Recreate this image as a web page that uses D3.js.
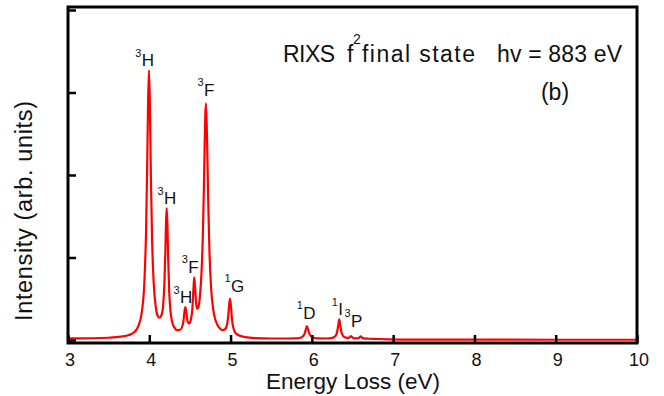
<!DOCTYPE html>
<html>
<head>
<meta charset="utf-8">
<script src="https://cdn.jsdelivr.net/npm/d3@7"></script>
<style>
  body { margin: 0; background: #fff; }
  text { font-family: Arial, "Liberation Sans", sans-serif; fill: #111; }
</style>
</head>
<body>
<svg id="chart" width="664" height="396"></svg>
<script>
/*
** Data
*/
var energy = [
    3.00, 3.30, 3.50, 3.65, 3.75, 3.82, 3.87, 3.91, 3.94, 3.96, 3.975, 3.985
  , 3.996, 4.007, 4.02, 4.035, 4.055, 4.08, 4.10, 4.125, 4.15, 4.17, 4.185, 4.197
  , 4.206, 4.214, 4.222, 4.232, 4.245, 4.26, 4.28, 4.31, 4.34, 4.37, 4.40, 4.42
  , 4.435, 4.443, 4.452, 4.47, 4.49, 4.51, 4.53, 4.543, 4.553, 4.563, 4.575, 4.59
  , 4.605, 4.625, 4.645, 4.66, 4.672, 4.682, 4.697, 4.712, 4.725, 4.74, 4.76, 4.785
  , 4.81, 4.84, 4.87, 4.90, 4.93, 4.955, 4.972, 4.983, 4.993, 5.003, 5.015, 5.03
  , 5.05, 5.08, 5.12, 5.18, 5.30, 5.50, 5.70, 5.80, 5.86, 5.89, 5.91, 5.925
  , 5.94, 5.955, 5.97, 5.99, 6.02, 6.08, 6.18, 6.25, 6.29, 6.31, 6.325, 6.337
  , 6.349, 6.365, 6.39, 6.42, 6.45, 6.47, 6.48, 6.495, 6.52, 6.56, 6.585, 6.60
  , 6.615, 6.64, 6.70, 6.80, 6.95, 7.20, 8.00, 9.00, 10.0
];
var intensity = [
    0.020, 0.021, 0.027, 0.040, 0.060, 0.100, 0.180, 0.350, 0.710, 1.300, 2.160, 2.870
  , 3.270, 2.870, 1.960, 1.190, 0.680, 0.400, 0.300, 0.270, 0.300, 0.420, 0.660, 1.050
  , 1.430, 1.600, 1.430, 1.000, 0.590, 0.360, 0.225, 0.150, 0.120, 0.120, 0.150, 0.226
  , 0.360, 0.400, 0.360, 0.230, 0.200, 0.240, 0.380, 0.610, 0.760, 0.640, 0.460, 0.380
  , 0.400, 0.550, 0.870, 1.310, 1.850, 2.400, 2.870, 2.380, 1.680, 1.080, 0.640, 0.380
  , 0.255, 0.180, 0.140, 0.120, 0.130, 0.180, 0.300, 0.430, 0.500, 0.430, 0.275, 0.165
  , 0.100, 0.068, 0.050, 0.035, 0.023, 0.018, 0.018, 0.020, 0.028, 0.045, 0.075, 0.125
  , 0.170, 0.120, 0.075, 0.045, 0.028, 0.020, 0.018, 0.025, 0.048, 0.095, 0.180, 0.250
  , 0.180, 0.090, 0.043, 0.028, 0.026, 0.038, 0.048, 0.035, 0.020, 0.019, 0.030, 0.045
  , 0.030, 0.020, 0.015, 0.012, 0.008, 0.005, 0.004, 0.003, 0.003
];

// term labels: multiplicity, letter, anchor in data units (E, I)
var termMult   = ["3", "3", "3", "3", "3", "1", "1", "1", "3"];
var termLetter = ["H", "H", "H", "F", "F", "G", "D", "I", "P"];
var termE      = [3.906, 4.181, 4.378, 4.480, 4.673, 5.005, 5.894, 6.325, 6.481];
var termI      = [3.32, 1.648, 0.445, 0.816, 2.958, 0.582, 0.255, 0.303, 0.161];

var xTicks = [3, 4, 5, 6, 7, 8, 9, 10];
var yTicks = [0, 1, 2, 3, 4];

/*
** Chart
*/
function RixsChart() {
  var svg = d3.select("#chart")
    , x = d3.scaleLinear().domain([3, 10]).range([68, 637])
    , y = d3.scaleLinear().domain([0, 4]).range([340, 10])
  ;

  function header(px, py, size, str, len) {
      var t = svg.append("text")
          .attr("x", px)
          .attr("y", py)
          .style("font-size", size + "px")
          .text(str)
      ;
      if(len) t.attr("textLength", len).attr("lengthAdjust", "spacing");
      return t;
  } // header()

  function my() {
      var points = d3.range(energy.length).map(function(i) {
          return [energy[i], intensity[i]];
        });

      // spectrum
      svg.append("path")
          .datum(points)
          .attr("fill", "none")
          .attr("stroke", "#f00")
          .attr("stroke-width", 2.2)
          .attr("stroke-linejoin", "round")
          .attr("d", d3.line()
              .x(function(d) { return x(d[0]); })
              .y(function(d) { return y(d[1]); })
              .curve(d3.curveMonotoneX))
      ;

      // inward ticks
      svg.append("g")
          .attr("transform", "translate(0," + (y(0) + 3) + ")")
          .call(d3.axisTop(x).tickValues(xTicks).tickSize(8).tickFormat(""))
          .call(function(g) {
              g.select(".domain").remove();
              g.selectAll("line").attr("stroke", "#000").attr("stroke-width", 2.5);
            })
      ;
      svg.append("g")
          .attr("transform", "translate(" + x(3) + ",0)")
          .call(d3.axisRight(y).tickValues(yTicks).tickSize(8).tickFormat(""))
          .call(function(g) {
              g.select(".domain").remove();
              g.selectAll("line").attr("stroke", "#000").attr("stroke-width", 2.5);
            })
      ;

      // frame
      svg.append("rect")
          .attr("x", x(3))
          .attr("y", y(4) - 3)
          .attr("width", x(10) - x(3))
          .attr("height", y(0) - y(4) + 6)
          .attr("fill", "none")
          .attr("stroke", "#000")
          .attr("stroke-width", 3)
      ;

      // tick labels
      svg.append("g").selectAll("text")
          .data(xTicks)
          .join("text")
          .attr("x", function(d) { return x(d) + 2; })
          .attr("y", 366)
          .attr("text-anchor", "middle")
          .style("font-size", "18px")
          .text(function(d) { return d; })
      ;

      // axis titles
      svg.append("text")
          .attr("x", 353)
          .attr("y", 389)
          .attr("text-anchor", "middle")
          .style("font-size", "22.5px")
          .text("Energy Loss (eV)")
      ;
      svg.append("text")
          .attr("transform", "translate(32,211) rotate(-90)")
          .attr("text-anchor", "middle")
          .attr("textLength", 220)
          .attr("lengthAdjust", "spacing")
          .style("font-size", "23.5px")
          .text("Intensity (arb. units)")
      ;

      // header
      header(283, 62, 23, "RIXS", 52);
      header(347, 62, 23, "f");
      header(353, 44, 14, "2");
      header(362, 62, 23, "final state", 113);
      header(497, 62, 23, "hv = 883 eV", 125);
      header(555, 100, 23, "(b)").attr("text-anchor", "middle");

      // term labels
      var terms = svg.append("g").selectAll("g")
          .data(d3.range(termLetter.length))
          .join("g")
          .attr("transform", function(i) {
              return "translate(" + x(termE[i]) + "," + y(termI[i]) + ")";
            })
      ;
      terms.append("text")
          .attr("x", -6.5)
          .attr("y", -9.5)
          .style("font-size", "11px")
          .text(function(i) { return termMult[i]; })
      ;
      terms.append("text")
          .style("font-size", "17px")
          .text(function(i) { return termLetter[i]; })
      ;
  } // my()

  return my;
} // RixsChart()

RixsChart()();
</script>
</body>
</html>
